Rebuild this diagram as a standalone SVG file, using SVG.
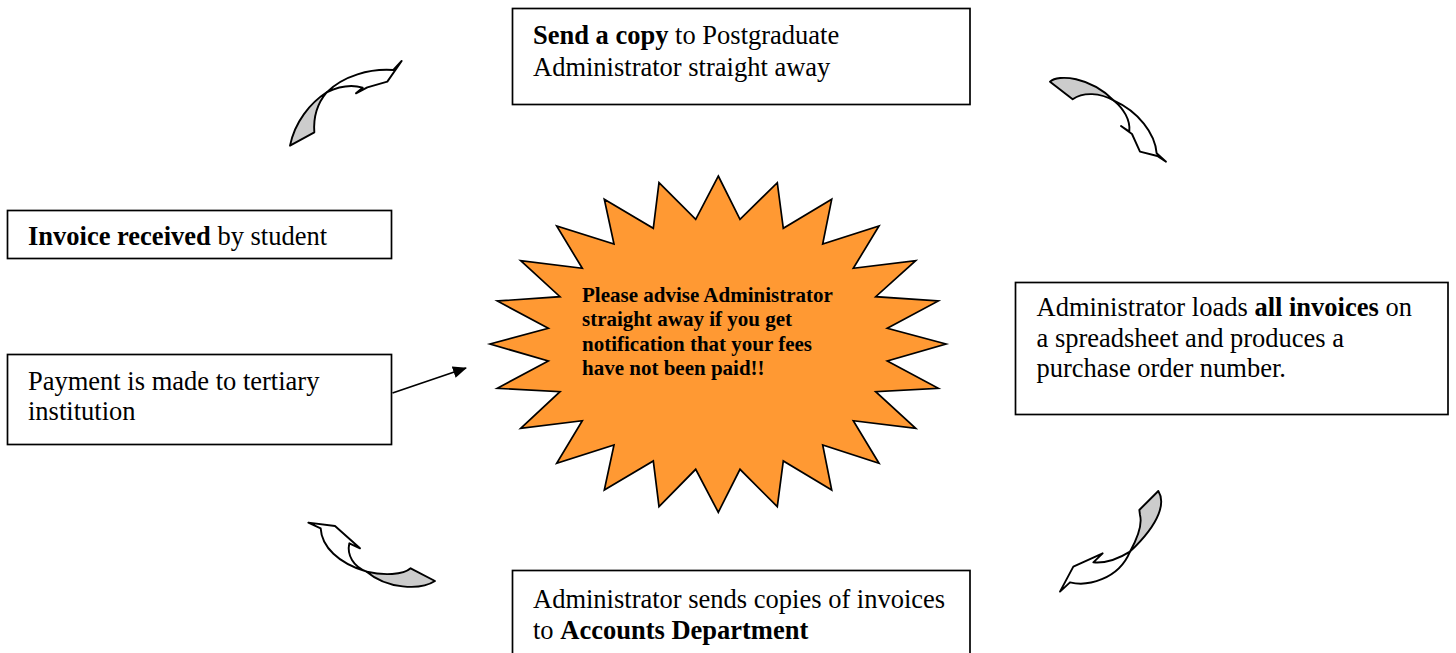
<svg xmlns="http://www.w3.org/2000/svg" width="1456" height="653" viewBox="0 0 1456 653">
<style>
.box{fill:#fff;stroke:#000;stroke-width:1.7}
.t{font-family:"Liberation Serif","Times New Roman",serif;font-size:26.5px;fill:#000}
.b{font-weight:bold}
.st{font-family:"Liberation Serif","Times New Roman",serif;font-size:21px;font-weight:bold;fill:#000}
.ca path{stroke:#000;stroke-width:1.9;stroke-linejoin:round;vector-effect:non-scaling-stroke}
.w{fill:#fff}
.g{fill:#cccccc}
</style>
<defs>
<marker id="ah" viewBox="0 0 14 12" refX="13" refY="6" markerWidth="14" markerHeight="12" markerUnits="userSpaceOnUse" orient="auto">
<path d="M0,0 L14,6 L0,12 Z" fill="#000"/>
</marker>
</defs>
<rect width="1456" height="653" fill="#fff"/>

<g id="burst">
<polygon points="718.3,176 740,219.3 777.3,182.7 783.3,228.3 831.7,199.3 822.7,244 879,226 853.3,268.3 915.7,260.7 875.7,296.7 938.3,301 887.3,328.3 946,344 887.3,361 938.3,388.3 875.7,391.7 915.7,428.3 853.3,420.7 879,463.3 822.7,445 831.7,490 783.3,461 777.3,506.7 740,469.3 718.3,512.3 695.7,469.3 659,506.7 653.3,461 604.3,490 614,445 556.7,463.3 582.3,420.7 520.7,428.3 560,391.7 497.3,388.3 548.3,361 490,344 548.3,328.3 497.3,301 560,296.7 520.7,260.7 582.3,268.3 556.7,226 614,244 604.3,199.3 653.3,228.3 659,182.7 695.7,219.3" fill="#ff9933" stroke="#000" stroke-width="1.7" stroke-linejoin="miter"/>
<text class="st" x="582" y="301.5">Please advise Administrator</text>
<text class="st" x="582" y="326">straight away if you get</text>
<text class="st" x="582" y="350.5">notification that your fees</text>
<text class="st" x="582" y="375">have not been paid!!</text>
</g>

<g id="node-send">
<rect class="box" x="512.5" y="8.5" width="457.5" height="96"/>
<text class="t" x="533" y="44"><tspan class="b">Send a copy</tspan> to Postgraduate</text>
<text class="t" x="533" y="76">Administrator straight away</text>
</g>

<g id="node-invoice">
<rect class="box" x="7.5" y="210.5" width="384" height="48"/>
<text class="t" x="28" y="244.5"><tspan class="b">Invoice received</tspan> by student</text>
</g>

<g id="node-payment">
<rect class="box" x="7.5" y="354.5" width="384" height="90"/>
<text class="t" x="28" y="390">Payment is made to tertiary</text>
<text class="t" x="28" y="420">institution</text>
</g>

<g id="node-loads">
<rect class="box" x="1015.5" y="282.5" width="432.5" height="132"/>
<text class="t" x="1036.5" y="315.5">Administrator loads <tspan class="b">all invoices</tspan> on</text>
<text class="t" x="1036.5" y="346.5">a spreadsheet and produces a</text>
<text class="t" x="1036.5" y="377">purchase order number.</text>
</g>

<g id="node-sends">
<rect class="box" x="512.5" y="570.5" width="457.5" height="100"/>
<text class="t" x="533" y="607.5">Administrator sends copies of invoices</text>
<text class="t" x="533" y="639">to <tspan class="b">Accounts Department</tspan></text>
</g>

<g id="connectors">
<line x1="392.5" y1="393" x2="466" y2="368" stroke="#000" stroke-width="1.8" marker-end="url(#ah)"/>
<g class="ca" transform="translate(280 55) scale(0.3333)">
<path class="g" d="M30,272 C45,200 90,145 140,112 C112,145 100,190 103,232 Z"/>
<path class="w" d="M140,112 C190,62 270,40 340,45 L365,18 L322,80 L262,97 L228,115 L248,98 C215,88 175,95 140,112 Z"/>
</g>
<g class="ca" transform="translate(1040 70) scale(0.3333)">
<path class="g" d="M30,35 C55,12 150,20 222,92 C180,68 130,65 98,88 Z"/>
<path class="w" d="M222,92 C295,125 345,190 350,250 L378,275 L352,258 L300,245 L276,192 L243,168 L268,185 C272,150 250,115 222,92 Z"/>
</g>
<g class="ca" transform="translate(1050 485) scale(0.3333)">
<path class="g" d="M325,18 C345,50 335,110 240,200 C262,160 278,120 270,90 L268,75 Z"/>
<path class="w" d="M240,200 C200,225 160,235 130,232 L158,205 L70,245 L30,320 L60,292 C110,305 205,285 240,200 Z"/>
</g>
<g class="ca" transform="translate(300 510) scale(0.3333)">
<path class="g" d="M200,185 C250,197 310,195 332,175 L405,213 C360,242 260,236 200,185 Z"/>
<path class="w" d="M200,185 C115,160 65,110 62,55 L25,38 L105,48 L180,115 L148,100 C140,135 160,170 200,185 Z"/>
</g>
</g>
</svg>
